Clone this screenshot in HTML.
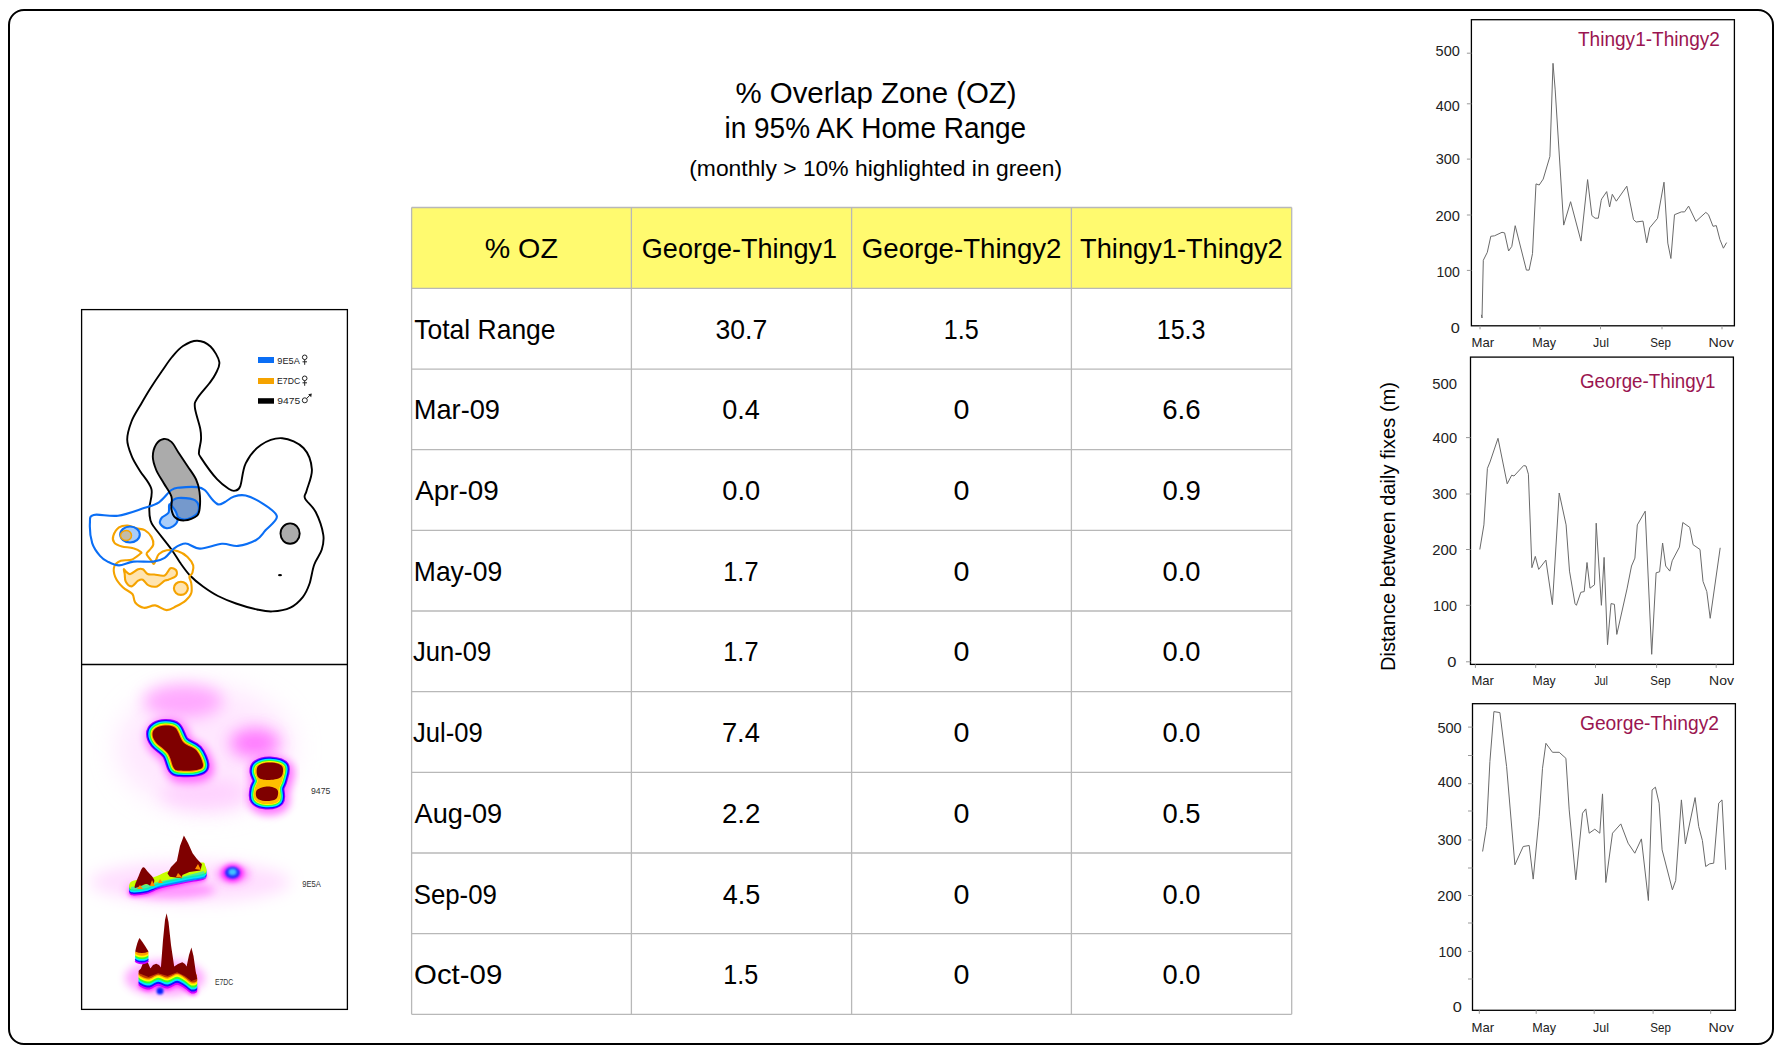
<!DOCTYPE html>
<html><head><meta charset="utf-8"><style>
html,body{margin:0;padding:0;background:#fff;width:1787px;height:1051px;overflow:hidden;position:relative}
</style></head><body>
<svg width="1787" height="1051" viewBox="0 0 1787 1051" style="position:absolute;left:0;top:0;font-family:'Liberation Sans', sans-serif"><rect x="9" y="10" width="1764" height="1034" rx="15" ry="15" fill="none" stroke="#000" stroke-width="2"/>
<text x="735.45" y="103.0" font-size="30.0" fill="#000" textLength="281.17" lengthAdjust="spacingAndGlyphs">% Overlap Zone (OZ)</text>
<text x="724.54" y="137.6" font-size="30.0" fill="#000" textLength="301.60" lengthAdjust="spacingAndGlyphs">in 95% AK Home Range</text>
<text x="689.28" y="175.6" font-size="22.5" fill="#000" textLength="372.73" lengthAdjust="spacingAndGlyphs">(monthly &gt; 10% highlighted in green)</text>
<rect x="411.6" y="207.5" width="880.1" height="80.9" fill="#fffa6f"/>
<line x1="411.6" y1="207.5" x2="411.6" y2="1014.3" stroke="#b8b8b8" stroke-width="1.3"/>
<line x1="631.4" y1="207.5" x2="631.4" y2="1014.3" stroke="#b8b8b8" stroke-width="1.3"/>
<line x1="851.6" y1="207.5" x2="851.6" y2="1014.3" stroke="#b8b8b8" stroke-width="1.3"/>
<line x1="1071.4" y1="207.5" x2="1071.4" y2="1014.3" stroke="#b8b8b8" stroke-width="1.3"/>
<line x1="1291.7" y1="207.5" x2="1291.7" y2="1014.3" stroke="#b8b8b8" stroke-width="1.3"/>
<line x1="411.6" y1="207.5" x2="1291.7" y2="207.5" stroke="#b8b8b8" stroke-width="1.3"/>
<line x1="411.6" y1="288.4" x2="1291.7" y2="288.4" stroke="#b8b8b8" stroke-width="1.3"/>
<line x1="411.6" y1="369.1" x2="1291.7" y2="369.1" stroke="#b8b8b8" stroke-width="1.3"/>
<line x1="411.6" y1="449.7" x2="1291.7" y2="449.7" stroke="#b8b8b8" stroke-width="1.3"/>
<line x1="411.6" y1="530.4" x2="1291.7" y2="530.4" stroke="#b8b8b8" stroke-width="1.3"/>
<line x1="411.6" y1="611.0" x2="1291.7" y2="611.0" stroke="#b8b8b8" stroke-width="1.3"/>
<line x1="411.6" y1="691.7" x2="1291.7" y2="691.7" stroke="#b8b8b8" stroke-width="1.3"/>
<line x1="411.6" y1="772.4" x2="1291.7" y2="772.4" stroke="#b8b8b8" stroke-width="1.3"/>
<line x1="411.6" y1="853.0" x2="1291.7" y2="853.0" stroke="#b8b8b8" stroke-width="1.3"/>
<line x1="411.6" y1="933.7" x2="1291.7" y2="933.7" stroke="#b8b8b8" stroke-width="1.3"/>
<line x1="411.6" y1="1014.3" x2="1291.7" y2="1014.3" stroke="#b8b8b8" stroke-width="1.3"/>
<text x="484.68" y="257.5" font-size="28.5" fill="#000" textLength="73.22" lengthAdjust="spacingAndGlyphs">% OZ</text>
<text x="641.84" y="257.5" font-size="28.5" fill="#000" textLength="195.28" lengthAdjust="spacingAndGlyphs">George-Thingy1</text>
<text x="861.81" y="257.5" font-size="28.5" fill="#000" textLength="199.68" lengthAdjust="spacingAndGlyphs">George-Thingy2</text>
<text x="1080.09" y="257.5" font-size="28.5" fill="#000" textLength="202.68" lengthAdjust="spacingAndGlyphs">Thingy1-Thingy2</text>
<text x="414.32" y="338.6" font-size="28.5" fill="#000" textLength="141.23" lengthAdjust="spacingAndGlyphs">Total Range</text>
<text x="715.49" y="338.6" font-size="28.5" fill="#000" textLength="51.75" lengthAdjust="spacingAndGlyphs">30.7</text>
<text x="943.68" y="338.6" font-size="28.5" fill="#000" textLength="34.97" lengthAdjust="spacingAndGlyphs">1.5</text>
<text x="1156.69" y="338.6" font-size="28.5" fill="#000" textLength="48.81" lengthAdjust="spacingAndGlyphs">15.3</text>
<text x="413.77" y="419.3" font-size="28.5" fill="#000" textLength="86.22" lengthAdjust="spacingAndGlyphs">Mar-09</text>
<text x="722.24" y="419.3" font-size="28.5" fill="#000" textLength="37.65" lengthAdjust="spacingAndGlyphs">0.4</text>
<text x="953.63" y="419.3" font-size="28.5" fill="#000" textLength="15.94" lengthAdjust="spacingAndGlyphs">0</text>
<text x="1162.20" y="419.3" font-size="28.5" fill="#000" textLength="38.42" lengthAdjust="spacingAndGlyphs">6.6</text>
<text x="415.25" y="500.0" font-size="28.5" fill="#000" textLength="83.57" lengthAdjust="spacingAndGlyphs">Apr-09</text>
<text x="722.23" y="500.0" font-size="28.5" fill="#000" textLength="37.93" lengthAdjust="spacingAndGlyphs">0.0</text>
<text x="953.63" y="500.0" font-size="28.5" fill="#000" textLength="15.94" lengthAdjust="spacingAndGlyphs">0</text>
<text x="1162.53" y="500.0" font-size="28.5" fill="#000" textLength="38.17" lengthAdjust="spacingAndGlyphs">0.9</text>
<text x="413.83" y="580.7" font-size="28.5" fill="#000" textLength="88.33" lengthAdjust="spacingAndGlyphs">May-09</text>
<text x="723.27" y="580.7" font-size="28.5" fill="#000" textLength="35.20" lengthAdjust="spacingAndGlyphs">1.7</text>
<text x="953.63" y="580.7" font-size="28.5" fill="#000" textLength="15.94" lengthAdjust="spacingAndGlyphs">0</text>
<text x="1162.53" y="580.7" font-size="28.5" fill="#000" textLength="37.93" lengthAdjust="spacingAndGlyphs">0.0</text>
<text x="413.10" y="661.4" font-size="28.5" fill="#000" textLength="78.11" lengthAdjust="spacingAndGlyphs">Jun-09</text>
<text x="723.27" y="661.4" font-size="28.5" fill="#000" textLength="35.20" lengthAdjust="spacingAndGlyphs">1.7</text>
<text x="953.63" y="661.4" font-size="28.5" fill="#000" textLength="15.94" lengthAdjust="spacingAndGlyphs">0</text>
<text x="1162.53" y="661.4" font-size="28.5" fill="#000" textLength="37.93" lengthAdjust="spacingAndGlyphs">0.0</text>
<text x="413.10" y="742.1" font-size="28.5" fill="#000" textLength="69.61" lengthAdjust="spacingAndGlyphs">Jul-09</text>
<text x="721.90" y="742.1" font-size="28.5" fill="#000" textLength="38.00" lengthAdjust="spacingAndGlyphs">7.4</text>
<text x="953.63" y="742.1" font-size="28.5" fill="#000" textLength="15.94" lengthAdjust="spacingAndGlyphs">0</text>
<text x="1162.53" y="742.1" font-size="28.5" fill="#000" textLength="37.93" lengthAdjust="spacingAndGlyphs">0.0</text>
<text x="414.55" y="822.8" font-size="28.5" fill="#000" textLength="87.64" lengthAdjust="spacingAndGlyphs">Aug-09</text>
<text x="721.90" y="822.8" font-size="28.5" fill="#000" textLength="38.59" lengthAdjust="spacingAndGlyphs">2.2</text>
<text x="953.63" y="822.8" font-size="28.5" fill="#000" textLength="15.94" lengthAdjust="spacingAndGlyphs">0</text>
<text x="1162.53" y="822.8" font-size="28.5" fill="#000" textLength="38.02" lengthAdjust="spacingAndGlyphs">0.5</text>
<text x="413.73" y="903.5" font-size="28.5" fill="#000" textLength="83.19" lengthAdjust="spacingAndGlyphs">Sep-09</text>
<text x="722.68" y="903.5" font-size="28.5" fill="#000" textLength="37.55" lengthAdjust="spacingAndGlyphs">4.5</text>
<text x="953.63" y="903.5" font-size="28.5" fill="#000" textLength="15.94" lengthAdjust="spacingAndGlyphs">0</text>
<text x="1162.53" y="903.5" font-size="28.5" fill="#000" textLength="37.93" lengthAdjust="spacingAndGlyphs">0.0</text>
<text x="414.01" y="984.2" font-size="28.5" fill="#000" textLength="88.29" lengthAdjust="spacingAndGlyphs">Oct-09</text>
<text x="723.28" y="984.2" font-size="28.5" fill="#000" textLength="34.97" lengthAdjust="spacingAndGlyphs">1.5</text>
<text x="953.63" y="984.2" font-size="28.5" fill="#000" textLength="15.94" lengthAdjust="spacingAndGlyphs">0</text>
<text x="1162.53" y="984.2" font-size="28.5" fill="#000" textLength="37.93" lengthAdjust="spacingAndGlyphs">0.0</text>
<rect x="81.6" y="309.6" width="265.8" height="699.8" fill="none" stroke="#000" stroke-width="1.3"/>
<line x1="81.8" y1="664.5" x2="347.4" y2="664.5" stroke="#000" stroke-width="1.3"/>
<path d="M197.2 340.7C201.8 340.8 206.8 342.9 210.5 346.5C214.2 350.1 218.5 357.4 219.3 362.0C220.1 366.6 217.2 370.4 215.5 374.0C213.8 377.6 212.5 379.2 209.4 383.3C206.3 387.4 199.6 394.4 197.2 398.5C194.8 402.6 194.4 402.5 194.9 407.6C195.4 412.7 199.3 423.7 200.3 429.0C201.3 434.3 201.2 435.8 201.0 439.6C200.8 443.4 199.0 448.9 199.0 451.9C199.0 454.9 197.9 453.1 200.9 457.6C203.9 462.2 212.3 474.0 217.0 479.2C221.7 484.4 226.0 487.1 229.0 489.0C232.0 490.9 233.1 491.2 235.0 490.7C236.9 490.2 238.5 490.7 240.3 486.1C242.1 481.5 242.3 470.2 245.7 463.3C249.1 456.4 254.8 449.2 260.9 445.0C267.0 440.8 275.1 437.7 282.2 438.2C289.3 438.7 298.6 442.8 303.5 448.0C308.4 453.2 311.4 462.3 311.9 469.4C312.4 476.5 307.8 485.9 306.6 490.7C305.5 495.5 303.5 494.8 305.0 498.3C306.5 501.9 312.6 505.9 315.7 512.0C318.8 518.1 322.3 528.5 323.3 534.8C324.3 541.0 323.3 544.5 321.8 549.5C320.3 554.5 316.2 559.0 314.2 564.7C312.1 570.4 311.4 578.4 309.5 583.8C307.6 589.2 306.0 593.1 302.8 597.1C299.6 601.1 295.5 605.2 290.4 607.6C285.3 610.0 277.9 611.1 272.3 611.4C266.8 611.7 263.2 610.8 257.1 609.5C251.1 608.2 242.5 605.8 236.0 603.5C229.5 601.2 223.5 598.8 218.0 596.0C212.5 593.2 207.7 589.9 203.0 586.5C198.3 583.1 193.8 579.5 190.0 575.5C186.2 571.5 183.1 566.9 180.0 562.5C176.9 558.1 175.5 555.0 171.3 549.2C167.1 543.4 158.1 532.6 154.6 527.8C151.1 523.0 151.4 523.7 150.5 520.4C149.6 517.1 149.2 513.3 149.3 508.1C149.5 502.9 153.0 495.2 151.4 489.0C149.8 482.8 143.3 476.3 140.0 470.9C136.7 465.5 133.9 461.6 131.8 456.4C129.7 451.2 127.2 445.4 127.2 439.6C127.2 433.8 129.3 427.3 131.5 421.5C133.7 415.7 137.4 410.4 140.5 405.0C143.6 399.6 146.4 394.7 150.0 389.0C153.6 383.3 158.3 376.3 162.0 371.0C165.7 365.7 168.5 361.2 172.0 357.0C175.5 352.8 178.8 348.7 183.0 346.0C187.2 343.3 192.6 340.6 197.2 340.7Z" fill="none" stroke="#000" stroke-width="1.9"/>
<path d="M123.8 569.2C124.1 568.9 125.5 571.3 126.6 572.1C127.7 572.9 128.5 574.5 130.4 574.0C132.3 573.5 136.0 570.0 138.1 569.2C140.2 568.4 141.2 568.4 142.8 569.2C144.4 570.0 145.7 573.1 147.6 574.0C149.5 574.9 151.3 574.3 154.2 574.5C157.0 574.7 162.0 576.4 164.7 575.4C167.4 574.4 168.5 569.2 170.4 568.3C172.3 567.4 175.2 568.9 176.1 570.2C177.0 571.5 177.4 574.3 176.1 575.9C174.8 577.5 170.4 578.9 168.5 579.7C166.6 580.5 166.6 579.6 164.7 580.7C162.8 581.8 159.8 585.6 157.1 586.4C154.4 587.2 150.9 586.5 148.5 585.4C146.1 584.3 144.5 580.5 142.8 579.7C141.1 578.9 140.0 579.6 138.1 580.7C136.2 581.8 133.5 586.2 131.4 586.4C129.3 586.5 126.8 583.7 125.7 581.6C124.6 579.5 125.0 576.1 124.7 574.0C124.4 571.9 123.5 569.5 123.8 569.2Z" fill="#ffe4b0" stroke="#f5a300" stroke-width="2.1"/>
<ellipse cx="180.9" cy="588.3" rx="7" ry="6.6" fill="#ffe4b0" stroke="#f5a300" stroke-width="2.1"/>
<path d="M113.3 535.9C114.1 533.4 116.6 529.1 119.0 527.4C121.4 525.7 124.7 525.4 127.6 525.5C130.5 525.6 133.3 527.5 136.2 528.3C139.0 529.1 142.2 528.8 144.7 530.2C147.2 531.6 150.0 534.5 151.4 536.9C152.8 539.3 153.6 542.3 153.3 544.5C153.0 546.7 150.6 548.6 149.5 550.2C148.4 551.8 146.3 552.2 146.6 554.0C146.9 555.8 150.2 559.0 151.4 560.7C152.6 562.4 153.0 564.2 153.8 564.0C154.6 563.8 155.2 561.4 156.1 559.7C157.0 558.0 157.2 555.6 159.0 554.0C160.8 552.4 163.4 550.7 166.6 550.2C169.8 549.7 174.5 550.1 178.0 551.2C181.5 552.3 185.0 554.5 187.5 556.9C190.0 559.3 192.4 562.7 193.2 565.4C194.0 568.1 192.9 571.1 192.3 573.0C191.7 574.9 189.6 575.0 189.4 576.8C189.2 578.5 191.0 580.8 191.3 583.5C191.6 586.2 192.2 590.1 191.3 593.0C190.4 595.9 188.1 598.4 185.6 600.6C183.1 602.8 179.3 604.7 176.1 606.3C172.9 607.9 170.1 610.2 166.6 610.1C163.1 610.0 159.0 605.8 155.2 605.4C151.4 605.0 147.1 608.3 143.8 607.8C140.5 607.3 137.1 604.8 135.2 602.5C133.3 600.2 134.5 596.5 132.4 594.0C130.3 591.5 125.7 590.2 122.8 587.3C119.9 584.4 116.6 580.3 115.2 576.8C113.8 573.3 113.3 569.1 114.3 566.4C115.2 563.7 118.1 561.8 120.9 560.7C123.8 559.6 128.2 560.8 131.4 559.7C134.6 558.6 138.4 555.3 140.0 554.0C141.6 552.7 142.0 553.1 140.9 552.1C139.8 551.1 136.5 549.2 133.3 548.3C130.1 547.3 125.1 547.3 121.9 546.4C118.7 545.5 115.7 544.4 114.3 542.6C112.9 540.9 112.5 538.4 113.3 535.9Z" fill="none" stroke="#f5a300" stroke-width="2.1"/>
<ellipse cx="130" cy="534.5" rx="9.8" ry="8" fill="#a9cdf9" stroke="#0a6ef5" stroke-width="2.1"/>
<path d="M126.5 530.5 A5 5 0 1 1 126.5 540.5 A6 5 0 0 1 126.5 530.5Z" fill="#c3bca8" stroke="#f5a300" stroke-width="1.5"/>
<path d="M163.8 439.0C166.3 438.6 169.0 439.8 171.4 441.9C173.8 444.0 175.4 447.8 178.1 451.9C180.8 455.9 184.6 461.6 187.6 466.2C190.6 470.8 194.1 475.2 196.1 479.5C198.1 483.8 198.9 487.4 199.5 491.8C200.1 496.2 200.3 502.1 199.9 506.1C199.5 510.1 199.6 513.2 197.1 515.6C194.6 518.0 188.3 520.1 184.7 520.4C181.0 520.7 177.4 519.4 175.2 517.5C173.0 515.6 172.0 512.5 171.4 509.0C170.8 505.5 172.7 500.9 171.4 496.6C170.1 492.3 166.3 487.7 163.8 483.3C161.3 478.9 158.0 474.4 156.2 470.0C154.4 465.6 152.8 460.9 152.8 456.6C152.8 452.3 154.4 447.2 156.2 444.3C158.0 441.4 161.3 439.4 163.8 439.0Z" fill="#ababab"/>
<path d="M171.4 502.3C172.5 500.3 174.4 498.5 178.1 498.0C181.8 497.5 189.9 498.3 193.3 499.5C196.7 500.7 197.9 502.8 198.5 505.2C199.1 507.6 199.1 511.3 197.1 513.7C195.1 516.1 189.8 518.8 186.6 519.4C183.4 520.0 180.6 519.1 178.1 517.5C175.6 515.9 172.5 512.4 171.4 509.9C170.3 507.4 170.3 504.3 171.4 502.3Z" fill="#7599cc" stroke="#0a6ef5" stroke-width="2.1"/>
<path d="M169.5 504.2C168.2 504.3 169.8 510.6 168.5 512.8C167.2 515.0 163.3 515.8 161.9 517.5C160.5 519.2 159.4 521.5 160.0 523.2C160.6 525.0 163.5 527.5 165.7 528.0C167.9 528.5 171.3 527.4 173.3 526.1C175.3 524.8 177.2 522.8 177.6 520.4C178.0 518.0 177.3 514.7 176.0 512.0C174.7 509.3 170.8 504.1 169.5 504.2Z" fill="#aacdf9" stroke="#0a6ef5" stroke-width="2.1"/>
<path d="M89.9 523.3C90.2 518.6 89.0 516.2 93.7 514.9C98.4 513.6 109.6 516.8 118.0 515.7C126.4 514.6 137.1 510.3 143.9 508.1C150.7 505.9 154.4 505.3 159.0 502.3C163.6 499.3 167.9 492.4 171.4 490.0C174.9 487.6 175.7 488.1 180.0 487.6C184.3 487.1 193.0 486.7 197.1 487.1C201.2 487.5 202.2 487.9 204.7 490.0C207.2 492.1 210.0 497.1 212.3 499.5C214.6 501.9 216.2 504.0 218.3 504.4C220.4 504.8 222.5 503.3 225.0 502.0C227.5 500.7 230.1 497.9 233.5 496.8C236.9 495.7 240.6 494.3 245.7 495.6C250.8 496.9 258.7 500.9 263.9 504.4C269.1 507.9 276.6 512.3 276.9 516.6C277.2 520.9 268.9 526.4 265.5 530.3C262.1 534.2 260.8 537.4 256.2 540.0C251.6 542.6 243.7 545.3 238.0 545.9C232.3 546.5 228.2 543.3 221.9 543.8C215.6 544.2 206.1 548.6 200.0 548.6C193.9 548.6 189.9 543.5 185.6 543.5C181.3 543.5 177.7 545.9 174.2 548.3C170.7 550.7 168.2 555.6 164.7 557.8C161.2 560.0 158.5 561.0 153.3 561.6C148.1 562.2 139.0 561.0 133.3 561.6C127.6 562.2 123.3 565.4 119.0 565.4C114.7 565.4 110.8 563.2 107.6 561.6C104.4 560.0 102.6 559.0 100.0 555.9C97.4 552.8 93.9 548.5 92.2 543.1C90.5 537.7 89.7 528.0 89.9 523.3Z" fill="none" stroke="#0a6ef5" stroke-width="2.1"/>
<path d="M163.8 439.0C166.3 438.6 169.0 439.8 171.4 441.9C173.8 444.0 175.4 447.8 178.1 451.9C180.8 455.9 184.6 461.6 187.6 466.2C190.6 470.8 194.1 475.2 196.1 479.5C198.1 483.8 198.9 487.4 199.5 491.8C200.1 496.2 200.3 502.1 199.9 506.1C199.5 510.1 199.6 513.2 197.1 515.6C194.6 518.0 188.3 520.1 184.7 520.4C181.0 520.7 177.4 519.4 175.2 517.5C173.0 515.6 172.0 512.5 171.4 509.0C170.8 505.5 172.7 500.9 171.4 496.6C170.1 492.3 166.3 487.7 163.8 483.3C161.3 478.9 158.0 474.4 156.2 470.0C154.4 465.6 152.8 460.9 152.8 456.6C152.8 452.3 154.4 447.2 156.2 444.3C158.0 441.4 161.3 439.4 163.8 439.0Z" fill="none" stroke="#000" stroke-width="1.9"/>
<ellipse cx="290.1" cy="533.6" rx="9.6" ry="10.2" fill="#ababab" stroke="#000" stroke-width="1.9"/>
<ellipse cx="280" cy="575.2" rx="2" ry="1.1" fill="#000"/>
<rect x="258" y="357" width="16" height="6" fill="#0a6ef5"/>
<rect x="258" y="378" width="16" height="6" fill="#f5a300"/>
<rect x="258" y="398.2" width="16" height="5.5" fill="#000"/>
<text x="277.37" y="363.5" font-size="9.0" fill="#222" textLength="22.45" lengthAdjust="spacingAndGlyphs">9E5A</text>
<text x="277.09" y="384.2" font-size="9.0" fill="#222" textLength="23.04" lengthAdjust="spacingAndGlyphs">E7DC</text>
<text x="277.32" y="404.3" font-size="9.0" fill="#222" textLength="22.92" lengthAdjust="spacingAndGlyphs">9475</text>
<circle cx="304.7" cy="357.3" r="2.3" fill="none" stroke="#222" stroke-width="1"/><line x1="304.7" y1="359.6" x2="304.7" y2="364.8" stroke="#222" stroke-width="1"/><line x1="302.5" y1="361.8" x2="307" y2="361.8" stroke="#222" stroke-width="1"/>
<circle cx="304.7" cy="378.3" r="2.3" fill="none" stroke="#222" stroke-width="1"/><line x1="304.7" y1="380.6" x2="304.7" y2="385.8" stroke="#222" stroke-width="1"/><line x1="302.5" y1="382.8" x2="307" y2="382.8" stroke="#222" stroke-width="1"/>
<circle cx="304.8" cy="400.3" r="2.5" fill="none" stroke="#222" stroke-width="1"/><line x1="306.6" y1="398.5" x2="310.5" y2="394.6" stroke="#222" stroke-width="1"/><path d="M308.2 394.2 L311.8 393.6 L311.2 397.2Z" fill="#222"/>
<defs><filter id="b8" x="-50%" y="-50%" width="200%" height="200%"><feGaussianBlur stdDeviation="8"/></filter><filter id="b14" x="-50%" y="-50%" width="200%" height="200%"><feGaussianBlur stdDeviation="14"/></filter><filter id="b4" x="-50%" y="-50%" width="200%" height="200%"><feGaussianBlur stdDeviation="4"/></filter><filter id="b2" x="-50%" y="-50%" width="200%" height="200%"><feGaussianBlur stdDeviation="2"/></filter><filter id="b1" x="-50%" y="-50%" width="200%" height="200%"><feGaussianBlur stdDeviation="1"/></filter><clipPath id="heatclip"><rect x="82.5" y="665.2" width="264.2" height="343.6"/></clipPath></defs>
<g clip-path="url(#heatclip)">
<ellipse cx="205" cy="748" rx="88" ry="62" fill="#ffd0ff" opacity="0.5" filter="url(#b14)"/>
<ellipse cx="183" cy="701" rx="40" ry="17" fill="#ff80ff" opacity="0.62" filter="url(#b8)"/>
<ellipse cx="255" cy="743" rx="25" ry="15" fill="#ff50ff" opacity="0.7" filter="url(#b8)"/>
<ellipse cx="205" cy="795" rx="45" ry="16" fill="#ffb0ff" opacity="0.4" filter="url(#b8)"/>
<ellipse cx="190" cy="882" rx="100" ry="20" fill="#ffa0ff" opacity="0.35" filter="url(#b8)"/>
<ellipse cx="170" cy="890" rx="45" ry="9" fill="#ff40ff" opacity="0.45" filter="url(#b4)"/>
<ellipse cx="233" cy="873.8" rx="16" ry="9" fill="#ff40ff" opacity="0.6" filter="url(#b4)"/>
<ellipse cx="165" cy="978" rx="40" ry="18" fill="#ff40ff" opacity="0.45" filter="url(#b4)"/>
<path d="M156.0 728.0C158.1 726.6 161.8 725.5 165.0 725.5C168.2 725.5 172.4 725.2 175.5 728.0C178.6 730.8 180.0 738.7 183.5 742.5C187.0 746.3 193.2 746.8 196.5 750.6C199.8 754.4 203.0 762.0 203.0 765.2C203.0 768.4 200.3 769.1 196.5 770.0C192.7 770.9 183.8 770.8 180.0 770.5C176.2 770.2 175.8 770.8 173.8 768.0C171.8 765.2 171.0 757.8 168.0 753.5C165.0 749.2 158.6 745.8 156.0 742.5C153.4 739.2 152.5 736.4 152.5 734.0C152.5 731.6 153.9 729.4 156.0 728.0Z" fill="#ff00ff" stroke="#ff00ff" stroke-width="18" opacity="0.55" filter="url(#b4)" transform="translate(2,3)"/>
<path d="M156.0 728.0C158.1 726.6 161.8 725.5 165.0 725.5C168.2 725.5 172.4 725.2 175.5 728.0C178.6 730.8 180.0 738.7 183.5 742.5C187.0 746.3 193.2 746.8 196.5 750.6C199.8 754.4 203.0 762.0 203.0 765.2C203.0 768.4 200.3 769.1 196.5 770.0C192.7 770.9 183.8 770.8 180.0 770.5C176.2 770.2 175.8 770.8 173.8 768.0C171.8 765.2 171.0 757.8 168.0 753.5C165.0 749.2 158.6 745.8 156.0 742.5C153.4 739.2 152.5 736.4 152.5 734.0C152.5 731.6 153.9 729.4 156.0 728.0Z" fill="#a000ff" stroke="#a000ff" stroke-width="13.0" stroke-linejoin="round"/><path d="M156.0 728.0C158.1 726.6 161.8 725.5 165.0 725.5C168.2 725.5 172.4 725.2 175.5 728.0C178.6 730.8 180.0 738.7 183.5 742.5C187.0 746.3 193.2 746.8 196.5 750.6C199.8 754.4 203.0 762.0 203.0 765.2C203.0 768.4 200.3 769.1 196.5 770.0C192.7 770.9 183.8 770.8 180.0 770.5C176.2 770.2 175.8 770.8 173.8 768.0C171.8 765.2 171.0 757.8 168.0 753.5C165.0 749.2 158.6 745.8 156.0 742.5C153.4 739.2 152.5 736.4 152.5 734.0C152.5 731.6 153.9 729.4 156.0 728.0Z" fill="#0010ff" stroke="#0010ff" stroke-width="11.0" stroke-linejoin="round"/><path d="M156.0 728.0C158.1 726.6 161.8 725.5 165.0 725.5C168.2 725.5 172.4 725.2 175.5 728.0C178.6 730.8 180.0 738.7 183.5 742.5C187.0 746.3 193.2 746.8 196.5 750.6C199.8 754.4 203.0 762.0 203.0 765.2C203.0 768.4 200.3 769.1 196.5 770.0C192.7 770.9 183.8 770.8 180.0 770.5C176.2 770.2 175.8 770.8 173.8 768.0C171.8 765.2 171.0 757.8 168.0 753.5C165.0 749.2 158.6 745.8 156.0 742.5C153.4 739.2 152.5 736.4 152.5 734.0C152.5 731.6 153.9 729.4 156.0 728.0Z" fill="#00e8ff" stroke="#00e8ff" stroke-width="8.5" stroke-linejoin="round"/><path d="M156.0 728.0C158.1 726.6 161.8 725.5 165.0 725.5C168.2 725.5 172.4 725.2 175.5 728.0C178.6 730.8 180.0 738.7 183.5 742.5C187.0 746.3 193.2 746.8 196.5 750.6C199.8 754.4 203.0 762.0 203.0 765.2C203.0 768.4 200.3 769.1 196.5 770.0C192.7 770.9 183.8 770.8 180.0 770.5C176.2 770.2 175.8 770.8 173.8 768.0C171.8 765.2 171.0 757.8 168.0 753.5C165.0 749.2 158.6 745.8 156.0 742.5C153.4 739.2 152.5 736.4 152.5 734.0C152.5 731.6 153.9 729.4 156.0 728.0Z" fill="#30ff30" stroke="#30ff30" stroke-width="6.0" stroke-linejoin="round"/><path d="M156.0 728.0C158.1 726.6 161.8 725.5 165.0 725.5C168.2 725.5 172.4 725.2 175.5 728.0C178.6 730.8 180.0 738.7 183.5 742.5C187.0 746.3 193.2 746.8 196.5 750.6C199.8 754.4 203.0 762.0 203.0 765.2C203.0 768.4 200.3 769.1 196.5 770.0C192.7 770.9 183.8 770.8 180.0 770.5C176.2 770.2 175.8 770.8 173.8 768.0C171.8 765.2 171.0 757.8 168.0 753.5C165.0 749.2 158.6 745.8 156.0 742.5C153.4 739.2 152.5 736.4 152.5 734.0C152.5 731.6 153.9 729.4 156.0 728.0Z" fill="#ffff00" stroke="#ffff00" stroke-width="3.8" stroke-linejoin="round"/><path d="M156.0 728.0C158.1 726.6 161.8 725.5 165.0 725.5C168.2 725.5 172.4 725.2 175.5 728.0C178.6 730.8 180.0 738.7 183.5 742.5C187.0 746.3 193.2 746.8 196.5 750.6C199.8 754.4 203.0 762.0 203.0 765.2C203.0 768.4 200.3 769.1 196.5 770.0C192.7 770.9 183.8 770.8 180.0 770.5C176.2 770.2 175.8 770.8 173.8 768.0C171.8 765.2 171.0 757.8 168.0 753.5C165.0 749.2 158.6 745.8 156.0 742.5C153.4 739.2 152.5 736.4 152.5 734.0C152.5 731.6 153.9 729.4 156.0 728.0Z" fill="#ff8c00" stroke="#ff8c00" stroke-width="2.0" stroke-linejoin="round"/><path d="M156.0 728.0C158.1 726.6 161.8 725.5 165.0 725.5C168.2 725.5 172.4 725.2 175.5 728.0C178.6 730.8 180.0 738.7 183.5 742.5C187.0 746.3 193.2 746.8 196.5 750.6C199.8 754.4 203.0 762.0 203.0 765.2C203.0 768.4 200.3 769.1 196.5 770.0C192.7 770.9 183.8 770.8 180.0 770.5C176.2 770.2 175.8 770.8 173.8 768.0C171.8 765.2 171.0 757.8 168.0 753.5C165.0 749.2 158.6 745.8 156.0 742.5C153.4 739.2 152.5 736.4 152.5 734.0C152.5 731.6 153.9 729.4 156.0 728.0Z" fill="#7f0000"/>
<path d="M258.0 766.0C260.3 764.5 265.8 762.8 270.0 763.0C274.2 763.2 281.2 764.2 283.0 767.0C284.8 769.8 281.8 776.5 281.0 780.0C280.2 783.5 278.5 784.7 278.0 788.0C277.5 791.3 280.0 797.5 278.0 800.0C276.0 802.5 269.7 803.2 266.0 803.0C262.3 802.8 257.7 801.3 256.0 799.0C254.3 796.7 255.5 792.0 256.0 789.0C256.5 786.0 259.0 783.8 259.0 781.0C259.0 778.2 256.2 774.5 256.0 772.0C255.8 769.5 255.7 767.5 258.0 766.0Z" fill="#ff00ff" stroke="#ff00ff" stroke-width="18" opacity="0.55" filter="url(#b4)" transform="translate(2,3)"/>
<path d="M258.0 766.0C260.3 764.5 265.8 762.8 270.0 763.0C274.2 763.2 281.2 764.2 283.0 767.0C284.8 769.8 281.8 776.5 281.0 780.0C280.2 783.5 278.5 784.7 278.0 788.0C277.5 791.3 280.0 797.5 278.0 800.0C276.0 802.5 269.7 803.2 266.0 803.0C262.3 802.8 257.7 801.3 256.0 799.0C254.3 796.7 255.5 792.0 256.0 789.0C256.5 786.0 259.0 783.8 259.0 781.0C259.0 778.2 256.2 774.5 256.0 772.0C255.8 769.5 255.7 767.5 258.0 766.0Z" fill="#a000ff" stroke="#a000ff" stroke-width="13.0" stroke-linejoin="round"/><path d="M258.0 766.0C260.3 764.5 265.8 762.8 270.0 763.0C274.2 763.2 281.2 764.2 283.0 767.0C284.8 769.8 281.8 776.5 281.0 780.0C280.2 783.5 278.5 784.7 278.0 788.0C277.5 791.3 280.0 797.5 278.0 800.0C276.0 802.5 269.7 803.2 266.0 803.0C262.3 802.8 257.7 801.3 256.0 799.0C254.3 796.7 255.5 792.0 256.0 789.0C256.5 786.0 259.0 783.8 259.0 781.0C259.0 778.2 256.2 774.5 256.0 772.0C255.8 769.5 255.7 767.5 258.0 766.0Z" fill="#0010ff" stroke="#0010ff" stroke-width="11.0" stroke-linejoin="round"/><path d="M258.0 766.0C260.3 764.5 265.8 762.8 270.0 763.0C274.2 763.2 281.2 764.2 283.0 767.0C284.8 769.8 281.8 776.5 281.0 780.0C280.2 783.5 278.5 784.7 278.0 788.0C277.5 791.3 280.0 797.5 278.0 800.0C276.0 802.5 269.7 803.2 266.0 803.0C262.3 802.8 257.7 801.3 256.0 799.0C254.3 796.7 255.5 792.0 256.0 789.0C256.5 786.0 259.0 783.8 259.0 781.0C259.0 778.2 256.2 774.5 256.0 772.0C255.8 769.5 255.7 767.5 258.0 766.0Z" fill="#00e8ff" stroke="#00e8ff" stroke-width="8.5" stroke-linejoin="round"/><path d="M258.0 766.0C260.3 764.5 265.8 762.8 270.0 763.0C274.2 763.2 281.2 764.2 283.0 767.0C284.8 769.8 281.8 776.5 281.0 780.0C280.2 783.5 278.5 784.7 278.0 788.0C277.5 791.3 280.0 797.5 278.0 800.0C276.0 802.5 269.7 803.2 266.0 803.0C262.3 802.8 257.7 801.3 256.0 799.0C254.3 796.7 255.5 792.0 256.0 789.0C256.5 786.0 259.0 783.8 259.0 781.0C259.0 778.2 256.2 774.5 256.0 772.0C255.8 769.5 255.7 767.5 258.0 766.0Z" fill="#30ff30" stroke="#30ff30" stroke-width="6.0" stroke-linejoin="round"/><path d="M258.0 766.0C260.3 764.5 265.8 762.8 270.0 763.0C274.2 763.2 281.2 764.2 283.0 767.0C284.8 769.8 281.8 776.5 281.0 780.0C280.2 783.5 278.5 784.7 278.0 788.0C277.5 791.3 280.0 797.5 278.0 800.0C276.0 802.5 269.7 803.2 266.0 803.0C262.3 802.8 257.7 801.3 256.0 799.0C254.3 796.7 255.5 792.0 256.0 789.0C256.5 786.0 259.0 783.8 259.0 781.0C259.0 778.2 256.2 774.5 256.0 772.0C255.8 769.5 255.7 767.5 258.0 766.0Z" fill="#ffff00" stroke="#ffff00" stroke-width="3.8" stroke-linejoin="round"/><path d="M258.0 766.0C260.3 764.5 265.8 762.8 270.0 763.0C274.2 763.2 281.2 764.2 283.0 767.0C284.8 769.8 281.8 776.5 281.0 780.0C280.2 783.5 278.5 784.7 278.0 788.0C277.5 791.3 280.0 797.5 278.0 800.0C276.0 802.5 269.7 803.2 266.0 803.0C262.3 802.8 257.7 801.3 256.0 799.0C254.3 796.7 255.5 792.0 256.0 789.0C256.5 786.0 259.0 783.8 259.0 781.0C259.0 778.2 256.2 774.5 256.0 772.0C255.8 769.5 255.7 767.5 258.0 766.0Z" fill="#ff8c00" stroke="#ff8c00" stroke-width="2.0" stroke-linejoin="round"/><path d="M258.0 766.0C260.3 764.5 265.8 762.8 270.0 763.0C274.2 763.2 281.2 764.2 283.0 767.0C284.8 769.8 281.8 776.5 281.0 780.0C280.2 783.5 278.5 784.7 278.0 788.0C277.5 791.3 280.0 797.5 278.0 800.0C276.0 802.5 269.7 803.2 266.0 803.0C262.3 802.8 257.7 801.3 256.0 799.0C254.3 796.7 255.5 792.0 256.0 789.0C256.5 786.0 259.0 783.8 259.0 781.0C259.0 778.2 256.2 774.5 256.0 772.0C255.8 769.5 255.7 767.5 258.0 766.0Z" fill="#7f0000"/>
<path d="M258.0 766.0C260.3 764.5 265.8 762.8 270.0 763.0C274.2 763.2 281.2 764.2 283.0 767.0C284.8 769.8 281.8 776.5 281.0 780.0C280.2 783.5 278.5 784.7 278.0 788.0C277.5 791.3 280.0 797.5 278.0 800.0C276.0 802.5 269.7 803.2 266.0 803.0C262.3 802.8 257.7 801.3 256.0 799.0C254.3 796.7 255.5 792.0 256.0 789.0C256.5 786.0 259.0 783.8 259.0 781.0C259.0 778.2 256.2 774.5 256.0 772.0C255.8 769.5 255.7 767.5 258.0 766.0Z" fill="#ffc000" stroke="#ffc000" stroke-width="2"/>
<path d="M258.0 766.0C260.0 763.6 266.0 762.5 270.0 762.5C274.0 762.5 280.2 763.6 282.0 766.0C283.8 768.4 283.3 774.7 281.0 777.0C278.7 779.3 271.8 780.0 268.0 780.0C264.2 780.0 259.7 779.3 258.0 777.0C256.3 774.7 256.0 768.4 258.0 766.0Z" fill="#7f0000"/>
<path d="M257.0 790.0C258.8 788.1 264.6 786.5 268.0 786.5C271.4 786.5 276.2 787.9 277.5 790.0C278.8 792.1 278.1 797.2 276.0 799.0C273.9 800.8 268.2 801.2 265.0 801.0C261.8 800.8 258.3 799.8 257.0 798.0C255.7 796.2 255.2 791.9 257.0 790.0Z" fill="#7f0000"/>
<path d="M130.7 882.0C132.5 880.3 138.1 879.8 142.0 879.0C145.9 878.2 150.2 878.2 154.2 877.0C158.2 875.8 161.6 873.7 165.9 872.0C170.2 870.3 174.1 868.6 180.0 867.0C185.9 865.4 197.0 862.9 201.2 862.6C205.4 862.3 204.4 863.3 205.0 865.0C205.6 866.7 208.2 871.0 205.0 873.0C201.8 875.0 192.7 875.5 185.5 877.0C178.3 878.5 168.5 880.2 162.0 882.0C155.5 883.8 151.5 886.8 146.3 888.0C141.1 889.2 133.6 890.0 131.0 889.0C128.4 888.0 128.9 883.7 130.7 882.0Z" fill="#ff00ff" opacity="0.8" filter="url(#b2)" transform="translate(0,7)"/>
<path d="M130.7 882.0C132.5 880.3 138.1 879.8 142.0 879.0C145.9 878.2 150.2 878.2 154.2 877.0C158.2 875.8 161.6 873.7 165.9 872.0C170.2 870.3 174.1 868.6 180.0 867.0C185.9 865.4 197.0 862.9 201.2 862.6C205.4 862.3 204.4 863.3 205.0 865.0C205.6 866.7 208.2 871.0 205.0 873.0C201.8 875.0 192.7 875.5 185.5 877.0C178.3 878.5 168.5 880.2 162.0 882.0C155.5 883.8 151.5 886.8 146.3 888.0C141.1 889.2 133.6 890.0 131.0 889.0C128.4 888.0 128.9 883.7 130.7 882.0Z" fill="#c000ff" transform="translate(0,6.0)"/><path d="M130.7 882.0C132.5 880.3 138.1 879.8 142.0 879.0C145.9 878.2 150.2 878.2 154.2 877.0C158.2 875.8 161.6 873.7 165.9 872.0C170.2 870.3 174.1 868.6 180.0 867.0C185.9 865.4 197.0 862.9 201.2 862.6C205.4 862.3 204.4 863.3 205.0 865.0C205.6 866.7 208.2 871.0 205.0 873.0C201.8 875.0 192.7 875.5 185.5 877.0C178.3 878.5 168.5 880.2 162.0 882.0C155.5 883.8 151.5 886.8 146.3 888.0C141.1 889.2 133.6 890.0 131.0 889.0C128.4 888.0 128.9 883.7 130.7 882.0Z" fill="#1010ff" transform="translate(0,4.5)"/><path d="M130.7 882.0C132.5 880.3 138.1 879.8 142.0 879.0C145.9 878.2 150.2 878.2 154.2 877.0C158.2 875.8 161.6 873.7 165.9 872.0C170.2 870.3 174.1 868.6 180.0 867.0C185.9 865.4 197.0 862.9 201.2 862.6C205.4 862.3 204.4 863.3 205.0 865.0C205.6 866.7 208.2 871.0 205.0 873.0C201.8 875.0 192.7 875.5 185.5 877.0C178.3 878.5 168.5 880.2 162.0 882.0C155.5 883.8 151.5 886.8 146.3 888.0C141.1 889.2 133.6 890.0 131.0 889.0C128.4 888.0 128.9 883.7 130.7 882.0Z" fill="#00e8ff" transform="translate(0,3.0)"/><path d="M130.7 882.0C132.5 880.3 138.1 879.8 142.0 879.0C145.9 878.2 150.2 878.2 154.2 877.0C158.2 875.8 161.6 873.7 165.9 872.0C170.2 870.3 174.1 868.6 180.0 867.0C185.9 865.4 197.0 862.9 201.2 862.6C205.4 862.3 204.4 863.3 205.0 865.0C205.6 866.7 208.2 871.0 205.0 873.0C201.8 875.0 192.7 875.5 185.5 877.0C178.3 878.5 168.5 880.2 162.0 882.0C155.5 883.8 151.5 886.8 146.3 888.0C141.1 889.2 133.6 890.0 131.0 889.0C128.4 888.0 128.9 883.7 130.7 882.0Z" fill="#20ff40" transform="translate(0,1.5)"/><path d="M130.7 882.0C132.5 880.3 138.1 879.8 142.0 879.0C145.9 878.2 150.2 878.2 154.2 877.0C158.2 875.8 161.6 873.7 165.9 872.0C170.2 870.3 174.1 868.6 180.0 867.0C185.9 865.4 197.0 862.9 201.2 862.6C205.4 862.3 204.4 863.3 205.0 865.0C205.6 866.7 208.2 871.0 205.0 873.0C201.8 875.0 192.7 875.5 185.5 877.0C178.3 878.5 168.5 880.2 162.0 882.0C155.5 883.8 151.5 886.8 146.3 888.0C141.1 889.2 133.6 890.0 131.0 889.0C128.4 888.0 128.9 883.7 130.7 882.0Z" fill="#c8ff00" transform="translate(0,0.0)"/>
<path d="M131 887 L150 884 L162 881 L185 876 L204 871 L206 878 L185 882 L160 887 L145 891 L131 891Z" fill="#00e0ff" opacity="0.6"/>
<ellipse cx="232.5" cy="873" rx="11" ry="9" fill="#ff00ff" opacity="0.7" filter="url(#b2)"/><ellipse cx="232.5" cy="872.8" rx="7.5" ry="6" fill="#2030ff" filter="url(#b1)"/><ellipse cx="232.5" cy="872" rx="4" ry="3.2" fill="#40c0ff" filter="url(#b1)"/>
<path d="M134.6 886.9C134.7 884.9 137.6 878.3 139.0 875.0C140.4 871.7 141.7 867.8 143.2 867.3C144.7 866.8 146.2 869.9 148.0 872.0C149.8 874.1 153.6 877.5 154.2 879.8C154.8 882.1 153.2 885.3 151.8 886.0C150.4 886.7 148.2 883.8 146.0 884.0C143.8 884.2 140.4 886.5 138.5 887.0C136.6 887.5 134.5 888.9 134.6 886.9Z" fill="#7f0000"/>
<path d="M167.5 873.6 L171.0 867.0 L174.5 863.4 L176.9 861.0 L180.0 846.0 L183.9 835.6 L188.0 843.0 L192.6 853.2 L197.0 859.0 L202.0 864.2 L200.4 870.4 L189.4 872.0 L182.4 875.1 L181.6 878.3 L169.8 876.7" fill="#7f0000"/>
<path d="M152 880 L155 886 L150 886Z M178 873 L183 878 L176 877Z M195 869 L201 870 L198 864Z M140 885 L143 889 L137 889Z M160 879 L163 883 L158 883Z" fill="#ff9000"/>
<path d="M140.9 968.5C142.7 967.5 146.8 967.2 150.0 967.0C153.2 966.8 156.0 967.0 160.0 967.0C164.0 967.0 169.7 967.0 174.0 967.0C178.3 967.0 182.5 966.5 186.0 967.0C189.5 967.5 193.2 968.0 195.0 970.0C196.8 972.0 197.7 977.2 197.1 979.0C196.5 980.8 193.5 981.4 191.4 980.9C189.3 980.4 187.1 977.5 184.7 976.1C182.3 974.7 179.9 972.3 177.1 972.3C174.2 972.3 170.8 975.9 167.6 976.1C164.4 976.3 161.3 973.1 158.1 973.3C154.9 973.5 151.7 977.1 148.5 977.1C145.3 977.1 140.3 974.7 139.0 973.3C137.7 971.9 139.1 969.5 140.9 968.5Z" fill="#ff00ff" opacity="0.8" filter="url(#b2)" transform="translate(0,14)"/>
<path d="M140.9 968.5C142.7 967.5 146.8 967.2 150.0 967.0C153.2 966.8 156.0 967.0 160.0 967.0C164.0 967.0 169.7 967.0 174.0 967.0C178.3 967.0 182.5 966.5 186.0 967.0C189.5 967.5 193.2 968.0 195.0 970.0C196.8 972.0 197.7 977.2 197.1 979.0C196.5 980.8 193.5 981.4 191.4 980.9C189.3 980.4 187.1 977.5 184.7 976.1C182.3 974.7 179.9 972.3 177.1 972.3C174.2 972.3 170.8 975.9 167.6 976.1C164.4 976.3 161.3 973.1 158.1 973.3C154.9 973.5 151.7 977.1 148.5 977.1C145.3 977.1 140.3 974.7 139.0 973.3C137.7 971.9 139.1 969.5 140.9 968.5Z" fill="#d000ff" transform="translate(0,12.5)"/><path d="M140.9 968.5C142.7 967.5 146.8 967.2 150.0 967.0C153.2 966.8 156.0 967.0 160.0 967.0C164.0 967.0 169.7 967.0 174.0 967.0C178.3 967.0 182.5 966.5 186.0 967.0C189.5 967.5 193.2 968.0 195.0 970.0C196.8 972.0 197.7 977.2 197.1 979.0C196.5 980.8 193.5 981.4 191.4 980.9C189.3 980.4 187.1 977.5 184.7 976.1C182.3 974.7 179.9 972.3 177.1 972.3C174.2 972.3 170.8 975.9 167.6 976.1C164.4 976.3 161.3 973.1 158.1 973.3C154.9 973.5 151.7 977.1 148.5 977.1C145.3 977.1 140.3 974.7 139.0 973.3C137.7 971.9 139.1 969.5 140.9 968.5Z" fill="#1010ff" transform="translate(0,10.5)"/><path d="M140.9 968.5C142.7 967.5 146.8 967.2 150.0 967.0C153.2 966.8 156.0 967.0 160.0 967.0C164.0 967.0 169.7 967.0 174.0 967.0C178.3 967.0 182.5 966.5 186.0 967.0C189.5 967.5 193.2 968.0 195.0 970.0C196.8 972.0 197.7 977.2 197.1 979.0C196.5 980.8 193.5 981.4 191.4 980.9C189.3 980.4 187.1 977.5 184.7 976.1C182.3 974.7 179.9 972.3 177.1 972.3C174.2 972.3 170.8 975.9 167.6 976.1C164.4 976.3 161.3 973.1 158.1 973.3C154.9 973.5 151.7 977.1 148.5 977.1C145.3 977.1 140.3 974.7 139.0 973.3C137.7 971.9 139.1 969.5 140.9 968.5Z" fill="#00e8ff" transform="translate(0,8.5)"/><path d="M140.9 968.5C142.7 967.5 146.8 967.2 150.0 967.0C153.2 966.8 156.0 967.0 160.0 967.0C164.0 967.0 169.7 967.0 174.0 967.0C178.3 967.0 182.5 966.5 186.0 967.0C189.5 967.5 193.2 968.0 195.0 970.0C196.8 972.0 197.7 977.2 197.1 979.0C196.5 980.8 193.5 981.4 191.4 980.9C189.3 980.4 187.1 977.5 184.7 976.1C182.3 974.7 179.9 972.3 177.1 972.3C174.2 972.3 170.8 975.9 167.6 976.1C164.4 976.3 161.3 973.1 158.1 973.3C154.9 973.5 151.7 977.1 148.5 977.1C145.3 977.1 140.3 974.7 139.0 973.3C137.7 971.9 139.1 969.5 140.9 968.5Z" fill="#30ff30" transform="translate(0,6.5)"/><path d="M140.9 968.5C142.7 967.5 146.8 967.2 150.0 967.0C153.2 966.8 156.0 967.0 160.0 967.0C164.0 967.0 169.7 967.0 174.0 967.0C178.3 967.0 182.5 966.5 186.0 967.0C189.5 967.5 193.2 968.0 195.0 970.0C196.8 972.0 197.7 977.2 197.1 979.0C196.5 980.8 193.5 981.4 191.4 980.9C189.3 980.4 187.1 977.5 184.7 976.1C182.3 974.7 179.9 972.3 177.1 972.3C174.2 972.3 170.8 975.9 167.6 976.1C164.4 976.3 161.3 973.1 158.1 973.3C154.9 973.5 151.7 977.1 148.5 977.1C145.3 977.1 140.3 974.7 139.0 973.3C137.7 971.9 139.1 969.5 140.9 968.5Z" fill="#ffff00" transform="translate(0,4.5)"/><path d="M140.9 968.5C142.7 967.5 146.8 967.2 150.0 967.0C153.2 966.8 156.0 967.0 160.0 967.0C164.0 967.0 169.7 967.0 174.0 967.0C178.3 967.0 182.5 966.5 186.0 967.0C189.5 967.5 193.2 968.0 195.0 970.0C196.8 972.0 197.7 977.2 197.1 979.0C196.5 980.8 193.5 981.4 191.4 980.9C189.3 980.4 187.1 977.5 184.7 976.1C182.3 974.7 179.9 972.3 177.1 972.3C174.2 972.3 170.8 975.9 167.6 976.1C164.4 976.3 161.3 973.1 158.1 973.3C154.9 973.5 151.7 977.1 148.5 977.1C145.3 977.1 140.3 974.7 139.0 973.3C137.7 971.9 139.1 969.5 140.9 968.5Z" fill="#ffb000" transform="translate(0,2.8)"/><path d="M140.9 968.5C142.7 967.5 146.8 967.2 150.0 967.0C153.2 966.8 156.0 967.0 160.0 967.0C164.0 967.0 169.7 967.0 174.0 967.0C178.3 967.0 182.5 966.5 186.0 967.0C189.5 967.5 193.2 968.0 195.0 970.0C196.8 972.0 197.7 977.2 197.1 979.0C196.5 980.8 193.5 981.4 191.4 980.9C189.3 980.4 187.1 977.5 184.7 976.1C182.3 974.7 179.9 972.3 177.1 972.3C174.2 972.3 170.8 975.9 167.6 976.1C164.4 976.3 161.3 973.1 158.1 973.3C154.9 973.5 151.7 977.1 148.5 977.1C145.3 977.1 140.3 974.7 139.0 973.3C137.7 971.9 139.1 969.5 140.9 968.5Z" fill="#c04000" transform="translate(0,1.4)"/>
<circle cx="160" cy="991" r="3.5" fill="#0020ff" filter="url(#b1)"/>
<path d="M140.9 968.5 L143.0 963.0 L146.2 959.0 L148.5 964.0 L150.4 968.5 L153.0 965.0 L156.2 963.7 L159.0 965.0 L160.9 967.6 L163.0 940.0 L165.0 920.0 L166.6 913.3 L168.5 922.0 L171.0 945.0 L174.2 966.6 L178.0 964.0 L182.3 962.3 L185.0 964.0 L186.6 966.6 L189.0 955.0 L191.4 947.6 L193.5 956.0 L196.1 974.2 L197.1 979.0 L191.4 980.9 L184.7 976.1 L177.1 972.3 L167.6 976.1 L158.1 973.3 L148.5 977.1 L139.0 973.3 L138.5 971.0Z" fill="#7f0000"/>
<ellipse cx="141.8" cy="961.2" rx="6.8" ry="3" fill="#d000ff"/>
<ellipse cx="141.8" cy="959.5" rx="6.8" ry="3" fill="#1010ff"/>
<ellipse cx="141.8" cy="957.8" rx="6.8" ry="3" fill="#00e8ff"/>
<ellipse cx="141.8" cy="956.1" rx="6.8" ry="3" fill="#30ff30"/>
<ellipse cx="141.8" cy="954.4" rx="6.8" ry="3" fill="#ffff00"/>
<ellipse cx="141.8" cy="952.7" rx="6.8" ry="3" fill="#ffa000"/>
<path d="M135.2 951.4 Q137.5 941 139.5 938 Q142 941 148.5 951.4 Q141.8 954.5 135.2 951.4Z" fill="#7f0000"/>
</g>
<text x="310.99" y="794.3" font-size="8.5" fill="#333" textLength="19.37" lengthAdjust="spacingAndGlyphs">9475</text>
<text x="302.34" y="886.8" font-size="8.5" fill="#333" textLength="18.57" lengthAdjust="spacingAndGlyphs">9E5A</text>
<text x="214.93" y="985.2" font-size="8.5" fill="#333" textLength="18.43" lengthAdjust="spacingAndGlyphs">E7DC</text>
<rect x="1471.4" y="19.7" width="263.0" height="306.1" fill="none" stroke="#000" stroke-width="1.3"/>
<line x1="1466.9" y1="53.2" x2="1471.4" y2="53.2" stroke="#999" stroke-width="1"/>
<line x1="1466.9" y1="103.8" x2="1471.4" y2="103.8" stroke="#999" stroke-width="1"/>
<line x1="1466.9" y1="159.1" x2="1471.4" y2="159.1" stroke="#999" stroke-width="1"/>
<line x1="1466.9" y1="215.0" x2="1471.4" y2="215.0" stroke="#999" stroke-width="1"/>
<line x1="1466.9" y1="270.4" x2="1471.4" y2="270.4" stroke="#999" stroke-width="1"/>
<text x="1435.62" y="56.4" font-size="14.5" fill="#222" textLength="24.25" lengthAdjust="spacingAndGlyphs">500</text>
<text x="1435.87" y="110.6" font-size="14.5" fill="#222" textLength="23.99" lengthAdjust="spacingAndGlyphs">400</text>
<text x="1435.65" y="164.0" font-size="14.5" fill="#222" textLength="24.22" lengthAdjust="spacingAndGlyphs">300</text>
<text x="1435.46" y="220.7" font-size="14.5" fill="#222" textLength="24.41" lengthAdjust="spacingAndGlyphs">200</text>
<text x="1436.43" y="276.6" font-size="14.5" fill="#222" textLength="23.42" lengthAdjust="spacingAndGlyphs">100</text>
<text x="1450.86" y="333.2" font-size="14.5" fill="#222" textLength="9.07" lengthAdjust="spacingAndGlyphs">0</text>
<line x1="1480.0" y1="325.8" x2="1480.0" y2="329.3" stroke="#999" stroke-width="1"/>
<line x1="1540.0" y1="325.8" x2="1540.0" y2="329.3" stroke="#999" stroke-width="1"/>
<line x1="1600.5" y1="325.8" x2="1600.5" y2="329.3" stroke="#999" stroke-width="1"/>
<line x1="1662.0" y1="325.8" x2="1662.0" y2="329.3" stroke="#999" stroke-width="1"/>
<line x1="1722.0" y1="325.8" x2="1722.0" y2="329.3" stroke="#999" stroke-width="1"/>
<text x="1471.52" y="347.0" font-size="13.0" fill="#222" textLength="22.59" lengthAdjust="spacingAndGlyphs">Mar</text>
<text x="1532.17" y="347.0" font-size="13.0" fill="#222" textLength="23.76" lengthAdjust="spacingAndGlyphs">May</text>
<text x="1593.01" y="347.0" font-size="13.0" fill="#222" textLength="15.93" lengthAdjust="spacingAndGlyphs">Jul</text>
<text x="1650.27" y="347.0" font-size="13.0" fill="#222" textLength="20.61" lengthAdjust="spacingAndGlyphs">Sep</text>
<text x="1708.54" y="347.0" font-size="13.0" fill="#222" textLength="25.21" lengthAdjust="spacingAndGlyphs">Nov</text>
<path d="M1481.4 314.8 L1482.0 318.0 L1483.3 260.3 L1487.3 252.3 L1490.8 236.3 L1494.5 235.8 L1502.0 232.3 L1504.6 232.9 L1508.6 251.0 L1511.8 246.4 L1515.2 225.7 L1526.4 270.1 L1529.1 270.1 L1532.5 253.6 L1536.0 183.9 L1539.2 185.0 L1543.2 179.1 L1549.9 156.5 L1553.0 63.3 L1555.2 89.9 L1563.7 225.1 L1570.6 201.7 L1581.0 241.1 L1587.6 179.6 L1591.9 215.6 L1595.1 218.2 L1598.3 218.2 L1601.2 200.4 L1601.8 198.8 L1606.7 191.6 L1609.6 207.0 L1612.3 194.3 L1616.3 201.2 L1626.8 186.2 L1633.5 219.6 L1636.2 222.0 L1643.0 221.1 L1646.7 242.8 L1649.7 227.8 L1657.5 218.4 L1664.0 182.2 L1667.8 243.1 L1670.9 258.5 L1674.5 214.7 L1681.4 211.9 L1684.6 211.9 L1688.6 206.1 L1695.9 221.4 L1705.8 212.4 L1708.5 214.7 L1713.0 226.3 L1716.3 225.6 L1719.9 239.5 L1723.4 248.2 L1726.6 242.6" fill="none" stroke="#6a6a6a" stroke-width="1" stroke-linejoin="round"/>
<text x="1577.97" y="45.7" font-size="20.0" fill="#9a1550" textLength="141.89" lengthAdjust="spacingAndGlyphs">Thingy1-Thingy2</text>
<rect x="1470.5" y="357.1" width="262.9" height="307.3" fill="none" stroke="#000" stroke-width="1.3"/>
<line x1="1466.0" y1="437.6" x2="1470.5" y2="437.6" stroke="#999" stroke-width="1"/>
<line x1="1466.0" y1="494.0" x2="1470.5" y2="494.0" stroke="#999" stroke-width="1"/>
<line x1="1466.0" y1="549.5" x2="1470.5" y2="549.5" stroke="#999" stroke-width="1"/>
<line x1="1466.0" y1="605.3" x2="1470.5" y2="605.3" stroke="#999" stroke-width="1"/>
<line x1="1466.0" y1="661.8" x2="1470.5" y2="661.8" stroke="#999" stroke-width="1"/>
<text x="1432.31" y="389.0" font-size="14.5" fill="#222" textLength="24.77" lengthAdjust="spacingAndGlyphs">500</text>
<text x="1432.56" y="442.8" font-size="14.5" fill="#222" textLength="24.51" lengthAdjust="spacingAndGlyphs">400</text>
<text x="1432.34" y="499.2" font-size="14.5" fill="#222" textLength="24.74" lengthAdjust="spacingAndGlyphs">300</text>
<text x="1432.15" y="554.7" font-size="14.5" fill="#222" textLength="24.94" lengthAdjust="spacingAndGlyphs">200</text>
<text x="1433.11" y="610.5" font-size="14.5" fill="#222" textLength="23.95" lengthAdjust="spacingAndGlyphs">100</text>
<text x="1447.35" y="667.0" font-size="14.5" fill="#222" textLength="9.19" lengthAdjust="spacingAndGlyphs">0</text>
<line x1="1475.4" y1="664.4" x2="1475.4" y2="667.9" stroke="#999" stroke-width="1"/>
<line x1="1535.7" y1="664.4" x2="1535.7" y2="667.9" stroke="#999" stroke-width="1"/>
<line x1="1595.5" y1="664.4" x2="1595.5" y2="667.9" stroke="#999" stroke-width="1"/>
<line x1="1656.6" y1="664.4" x2="1656.6" y2="667.9" stroke="#999" stroke-width="1"/>
<line x1="1716.2" y1="664.4" x2="1716.2" y2="667.9" stroke="#999" stroke-width="1"/>
<text x="1471.43" y="684.8" font-size="13.0" fill="#222" textLength="22.49" lengthAdjust="spacingAndGlyphs">Mar</text>
<text x="1532.60" y="684.8" font-size="13.0" fill="#222" textLength="23.02" lengthAdjust="spacingAndGlyphs">May</text>
<text x="1594.23" y="684.8" font-size="13.0" fill="#222" textLength="13.79" lengthAdjust="spacingAndGlyphs">Jul</text>
<text x="1650.28" y="684.8" font-size="13.0" fill="#222" textLength="20.51" lengthAdjust="spacingAndGlyphs">Sep</text>
<text x="1709.05" y="684.8" font-size="13.0" fill="#222" textLength="24.90" lengthAdjust="spacingAndGlyphs">Nov</text>
<path d="M1479.8 549.5 L1483.9 524.9 L1487.4 468.4 L1490.0 462.0 L1498.0 438.3 L1507.2 483.8 L1511.7 475.2 L1514.0 476.0 L1523.6 465.6 L1526.0 466.0 L1528.4 474.2 L1531.9 567.7 L1535.3 556.4 L1538.7 569.4 L1545.9 560.1 L1552.4 604.6 L1559.2 493.0 L1566.1 524.9 L1569.5 571.1 L1575.0 603.6 L1576.4 605.3 L1580.8 592.3 L1584.2 591.6 L1587.0 562.5 L1590.0 588.2 L1594.5 584.8 L1596.2 523.2 L1601.4 605.3 L1604.1 557.4 L1607.5 644.7 L1611.0 603.6 L1614.4 604.3 L1616.8 634.4 L1627.0 588.9 L1631.5 566.0 L1634.9 558.1 L1637.3 524.9 L1645.2 511.2 L1651.7 654.3 L1656.1 572.8 L1659.6 571.8 L1662.6 543.0 L1665.7 566.0 L1669.8 571.1 L1672.2 560.8 L1679.4 547.1 L1682.8 522.5 L1689.7 527.3 L1693.1 544.7 L1700.0 549.5 L1703.0 581.4 L1706.8 591.6 L1710.2 618.3 L1720.2 547.8" fill="none" stroke="#6a6a6a" stroke-width="1" stroke-linejoin="round"/>
<text x="1579.96" y="388.0" font-size="20.0" fill="#9a1550" textLength="135.56" lengthAdjust="spacingAndGlyphs">George-Thingy1</text>
<rect x="1472.5" y="703.7" width="262.9" height="306.6" fill="none" stroke="#000" stroke-width="1.3"/>
<line x1="1468.0" y1="727.1" x2="1472.5" y2="727.1" stroke="#999" stroke-width="1"/>
<line x1="1468.0" y1="755.5" x2="1472.5" y2="755.5" stroke="#999" stroke-width="1"/>
<line x1="1468.0" y1="783.7" x2="1472.5" y2="783.7" stroke="#999" stroke-width="1"/>
<line x1="1468.0" y1="811.0" x2="1472.5" y2="811.0" stroke="#999" stroke-width="1"/>
<line x1="1468.0" y1="840.0" x2="1472.5" y2="840.0" stroke="#999" stroke-width="1"/>
<line x1="1468.0" y1="868.0" x2="1472.5" y2="868.0" stroke="#999" stroke-width="1"/>
<line x1="1468.0" y1="895.5" x2="1472.5" y2="895.5" stroke="#999" stroke-width="1"/>
<line x1="1468.0" y1="923.0" x2="1472.5" y2="923.0" stroke="#999" stroke-width="1"/>
<line x1="1468.0" y1="951.4" x2="1472.5" y2="951.4" stroke="#999" stroke-width="1"/>
<line x1="1468.0" y1="979.0" x2="1472.5" y2="979.0" stroke="#999" stroke-width="1"/>
<text x="1437.42" y="732.8" font-size="14.5" fill="#222" textLength="24.25" lengthAdjust="spacingAndGlyphs">500</text>
<text x="1437.67" y="787.0" font-size="14.5" fill="#222" textLength="23.99" lengthAdjust="spacingAndGlyphs">400</text>
<text x="1437.45" y="845.0" font-size="14.5" fill="#222" textLength="24.22" lengthAdjust="spacingAndGlyphs">300</text>
<text x="1437.26" y="900.7" font-size="14.5" fill="#222" textLength="24.41" lengthAdjust="spacingAndGlyphs">200</text>
<text x="1438.44" y="956.6" font-size="14.5" fill="#222" textLength="23.20" lengthAdjust="spacingAndGlyphs">100</text>
<text x="1452.66" y="1012.2" font-size="14.5" fill="#222" textLength="9.07" lengthAdjust="spacingAndGlyphs">0</text>
<line x1="1479.3" y1="1010.3" x2="1479.3" y2="1013.8" stroke="#999" stroke-width="1"/>
<line x1="1536.2" y1="1010.3" x2="1536.2" y2="1013.8" stroke="#999" stroke-width="1"/>
<line x1="1594.2" y1="1010.3" x2="1594.2" y2="1013.8" stroke="#999" stroke-width="1"/>
<line x1="1653.1" y1="1010.3" x2="1653.1" y2="1013.8" stroke="#999" stroke-width="1"/>
<line x1="1710.7" y1="1010.3" x2="1710.7" y2="1013.8" stroke="#999" stroke-width="1"/>
<text x="1471.52" y="1032.0" font-size="13.0" fill="#222" textLength="22.59" lengthAdjust="spacingAndGlyphs">Mar</text>
<text x="1532.17" y="1032.0" font-size="13.0" fill="#222" textLength="23.76" lengthAdjust="spacingAndGlyphs">May</text>
<text x="1593.01" y="1032.0" font-size="13.0" fill="#222" textLength="15.93" lengthAdjust="spacingAndGlyphs">Jul</text>
<text x="1650.27" y="1032.0" font-size="13.0" fill="#222" textLength="20.61" lengthAdjust="spacingAndGlyphs">Sep</text>
<text x="1708.54" y="1032.0" font-size="13.0" fill="#222" textLength="25.21" lengthAdjust="spacingAndGlyphs">Nov</text>
<path d="M1482.6 851.5 L1486.6 826.5 L1489.9 761.6 L1493.9 711.6 L1499.9 712.6 L1506.6 766.6 L1514.9 864.8 L1523.2 846.5 L1529.2 845.5 L1533.2 879.1 L1539.2 816.5 L1542.5 768.3 L1545.9 743.3 L1552.5 752.3 L1559.2 752.3 L1565.9 758.3 L1569.2 809.9 L1575.8 879.8 L1582.5 813.2 L1585.8 808.9 L1589.2 833.2 L1594.8 829.2 L1599.8 833.2 L1602.5 793.9 L1605.8 882.5 L1612.5 833.2 L1620.8 823.9 L1628.1 843.2 L1634.8 853.2 L1641.4 838.9 L1648.4 900.5 L1652.1 789.9 L1655.4 787.2 L1659.1 803.2 L1662.1 849.8 L1672.4 889.8 L1675.7 880.5 L1681.4 799.9 L1685.4 843.8 L1695.1 797.6 L1698.7 826.5 L1702.4 840.5 L1705.7 866.5 L1709.7 863.8 L1713.7 863.2 L1718.7 803.2 L1722.0 799.9 L1725.7 869.8" fill="none" stroke="#6a6a6a" stroke-width="1" stroke-linejoin="round"/>
<text x="1579.93" y="729.7" font-size="20.0" fill="#9a1550" textLength="139.04" lengthAdjust="spacingAndGlyphs">George-Thingy2</text>
<text x="0" y="0" font-size="21" fill="#000" textLength="289" lengthAdjust="spacingAndGlyphs" transform="translate(1395,671) rotate(-90)">Distance between daily fixes (m)</text></svg>
</body></html>
